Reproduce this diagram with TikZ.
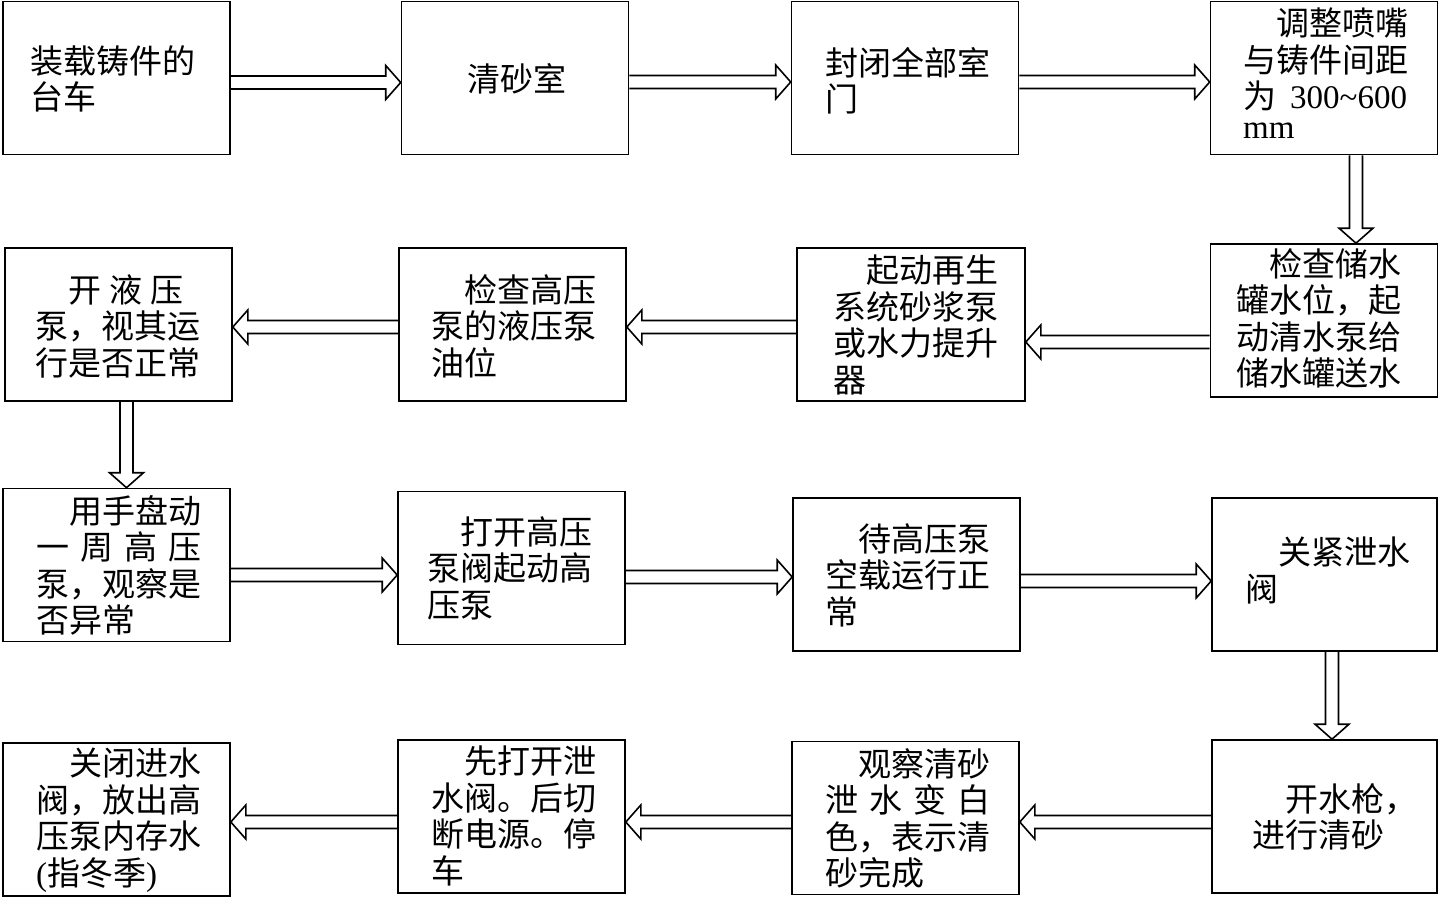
\documentclass[tikz,border=0pt]{standalone}
\usepackage{fontspec}
\setmainfont{Liberation Serif}
\newfontfamily\cjk{Noto Sans CJK SC}
\usetikzlibrary{calc}
\newcommand\barr[2]{%
  \coordinate (hh) at ($(#2)!15pt!(#1)$);
  \draw[arr] ($(#1)!6.5pt!90:(#2)$) -- ($(hh)!6.5pt!90:(#2)$) -- ($(hh)!17pt!90:(#2)$)
    -- (#2) -- ($(hh)!17pt!-90:(#2)$) -- ($(hh)!6.5pt!-90:(#2)$) -- ($(#1)!6.5pt!-90:(#2)$);}
\newcommand\ind{\hspace*{1em}}
\begin{document}
\begin{tikzpicture}[x=1pt,y=-1pt,
  box/.style={draw, line width=1.6pt, inner sep=0pt, minimum width=227pt, minimum height=153pt},
  txt/.style={anchor=north west, inner sep=0pt, align=left, font=\cjk\fontsize{33}{36.5}\selectfont},
  arr/.style={draw, line width=1.6pt, line join=miter}]
\useasboundingbox (0,0) rectangle (1440,913);
% boxes
\node[box] (b1) at (116.5,78) {};
\node[box] (b2) at (515,78) {};
\node[box] (b3) at (905,78) {};
\node[box] (b4) at (1324,78) {};
\node[box] (b5) at (118.5,324.5) {};
\node[box] (b6) at (512.5,324.5) {};
\node[box,minimum width=228pt] (b7) at (911,324.5) {};
\node[box] (b8) at (1324,320.5) {};
\node[box] (b9) at (116.5,565) {};
\node[box] (b10) at (511.5,568) {};
\node[box] (b11) at (906.5,574.5) {};
\node[box,minimum width=225pt] (b12) at (1324.5,574.5) {};
\node[box] (b13) at (116.5,819.5) {};
\node[box] (b14) at (511.5,816.5) {};
\node[box] (b15) at (905.5,818) {};
\node[box,minimum width=225pt] (b16) at (1324.5,816.5) {};
% texts
\node[txt] (t1) at (30,45) {装载铸件的\\台车};
\node[txt] (t2) at (467,63) {清砂室};
\node[txt] (t3) at (825,47) {封闭全部室\\门};
\node[txt] (t4) at (1243,8) {\ind 调整喷嘴\\与铸件间距\\为\hspace{14pt}{\rmfamily 300\textasciitilde 600}\\[-7pt]{\rmfamily mm}};
\node[txt] (t5) at (35,274) {\ind 开\hspace{8pt}液\hspace{8pt}压\\泵，视其运\\行是否正常};
\node[txt] (t6) at (431,274) {\ind 检查高压\\泵的液压泵\\油位};
\node[txt] (t7) at (833,255) {\ind 起动再生\\系统砂浆泵\\或水力提升\\器};
\node[txt] (t8) at (1236,248) {\ind 检查储水\\罐水位，起\\动清水泵给\\储水罐送水};
\node[txt] (t9) at (36,495) {\ind 用手盘动\\\makebox[5em][l]{一\hfill 周\hfill 高\hfill 压}\\泵，观察是\\否异常};
\node[txt] (t10) at (427,516) {\ind 打开高压\\泵阀起动高\\压泵};
\node[txt] (t11) at (825,523) {\ind 待高压泵\\空载运行正\\常};
\node[txt] (t12) at (1245,537) {\ind 关紧泄水\\阀};
\node[txt] (t13) at (36,748) {\ind 关闭进水\\阀，放出高\\压泵内存水\\{\rmfamily(}指冬季{\rmfamily)}};
\node[txt] (t14) at (431,746) {\ind 先打开泄\\水阀。后切\\断电源。停\\车};
\node[txt] (t15) at (825,748) {\ind 观察清砂\\\makebox[5em][l]{泄\hfill 水\hfill 变\hfill 白}\\色，表示清\\砂完成};
\node[txt] (t16) at (1252,783) {\ind 开水枪，\\进行清砂};
% arrow endpoints
\coordinate (s12) at ($(b1.east)+(0,4.5)$);  \coordinate (e12) at (s12 -| b2.west);
\coordinate (s23) at ($(b2.east)+(0,4)$);    \coordinate (e23) at (s23 -| b3.west);
\coordinate (s34) at ($(b3.east)+(0,4)$);    \coordinate (e34) at (s34 -| b4.west);
\coordinate (s48) at ($(b4.south)+(32,0)$);  \coordinate (e48) at (s48 |- b8.north);
\coordinate (s87) at ($(b8.west)+(0,21.5)$); \coordinate (e87) at (s87 -| b7.east);
\coordinate (s76) at ($(b7.west)+(0,2.5)$);  \coordinate (e76) at (s76 -| b6.east);
\coordinate (s65) at ($(b6.west)+(0,2.5)$);  \coordinate (e65) at (s65 -| b5.east);
\coordinate (s59) at ($(b5.south)+(8,0)$);   \coordinate (e59) at (s59 |- b9.north);
\coordinate (s910) at ($(b9.east)+(0,10)$);  \coordinate (e910) at (s910 -| b10.west);
\coordinate (s1011) at ($(b10.east)+(0,9)$); \coordinate (e1011) at (s1011 -| b11.west);
\coordinate (s1112) at ($(b11.east)+(0,6.5)$); \coordinate (e1112) at (s1112 -| b12.west);
\coordinate (s1216) at ($(b12.south)+(7.5,0)$); \coordinate (e1216) at (s1216 |- b16.north);
\coordinate (s1615) at ($(b16.west)+(0,5.5)$); \coordinate (e1615) at (s1615 -| b15.east);
\coordinate (s1514) at ($(b15.west)+(0,4)$); \coordinate (e1514) at (s1514 -| b14.east);
\coordinate (s1413) at ($(b14.west)+(0,5.5)$); \coordinate (e1413) at (s1413 -| b13.east);
% arrows
\barr{s12}{e12}
\barr{s23}{e23}
\barr{s34}{e34}
\barr{s48}{e48}
\barr{s87}{e87}
\barr{s76}{e76}
\barr{s65}{e65}
\barr{s59}{e59}
\barr{s910}{e910}
\barr{s1011}{e1011}
\barr{s1112}{e1112}
\barr{s1216}{e1216}
\barr{s1615}{e1615}
\barr{s1514}{e1514}
\barr{s1413}{e1413}
\end{tikzpicture}
\end{document}
